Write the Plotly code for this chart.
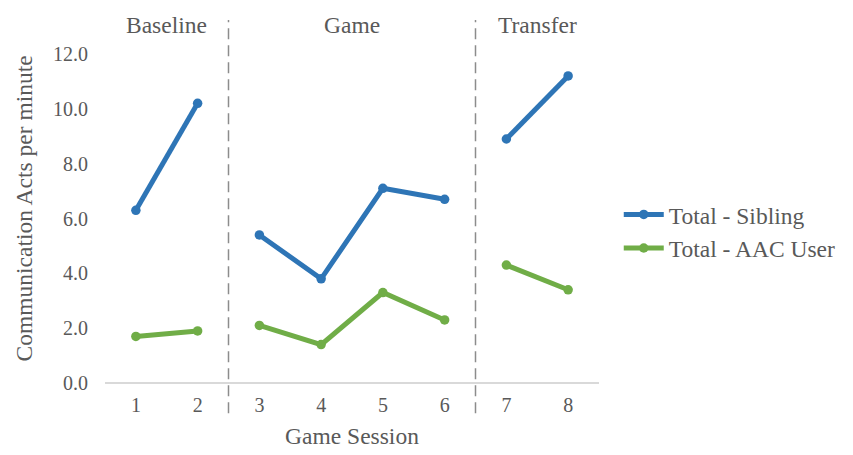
import plotly.graph_objects as go

sessions = [1, 2, 3, 4, 5, 6, 7, 8]
sibling = [6.3, 10.2, 5.4, 3.8, 7.1, 6.7, 8.9, 11.2]
aac_user = [1.7, 1.9, 2.1, 1.4, 3.3, 2.3, 4.3, 3.4]
phases = ["Baseline", "Game", "Transfer"]
phase_sessions = [[1, 2], [3, 4, 5, 6], [7, 8]]
y_ticks = [0, 2, 4, 6, 8, 10, 12]

BLUE = "#2E75B6"
GREEN = "#70AD47"
GRAY = "#595959"
FONT = "Liberation Serif"


def segmented(values):
    xs, ys = [], []
    for i, grp in enumerate(phase_sessions):
        if i > 0:
            xs.append(None)
            ys.append(None)
        for s in grp:
            xs.append(s)
            ys.append(values[sessions.index(s)])
    return xs, ys


fig = go.Figure()
for name, vals, col in [("Total - Sibling", sibling, BLUE), ("Total - AAC User", aac_user, GREEN)]:
    xs, ys = segmented(vals)
    fig.add_trace(go.Scatter(
        x=xs, y=ys, name=name, mode="lines+markers",
        line=dict(color=col, width=5),
        marker=dict(color=col, size=9.5, symbol="circle"),
        connectgaps=False,
    ))

# phase dividers and labels
for i in range(len(phase_sessions) - 1):
    xdiv = (phase_sessions[i][-1] + phase_sessions[i + 1][0]) / 2
    fig.add_shape(type="line", xref="x", yref="paper", x0=xdiv, x1=xdiv,
                  y0=-0.092, y1=1.103,
                  line=dict(color="#8C8C8C", width=1.5, dash="11px,6px"))
for ph, grp in zip(phases, phase_sessions):
    fig.add_annotation(x=(grp[0] + grp[-1]) / 2, y=1.088, xref="x", yref="paper",
                       xanchor="center", yanchor="middle",
                       text=ph, showarrow=False,
                       font=dict(family=FONT, size=23.5, color=GRAY))

# y-axis title as rotated annotation
fig.add_annotation(x=-0.165, y=0.532, xref="paper", yref="paper",
                   xanchor="center", yanchor="middle", textangle=-90,
                   text="Communication Acts per minute", showarrow=False,
                   font=dict(family=FONT, size=23.5, color=GRAY))

fig.update_layout(
    width=853, height=455,
    margin=dict(l=105, r=254, t=54, b=72),
    plot_bgcolor="white", paper_bgcolor="white",
    font=dict(family=FONT, size=20, color=GRAY),
    showlegend=True,
    legend=dict(x=1.04, y=0.46, xanchor="left", yanchor="middle",
                font=dict(family=FONT, size=23.5, color=GRAY),
                itemwidth=40, tracegroupgap=0, bgcolor="rgba(0,0,0,0)"),
    xaxis=dict(range=[0.5, 8.5], tickmode="array", tickvals=sessions,
               ticktext=[str(s) for s in sessions],
               showgrid=False, zeroline=False, showline=False, ticks="",
               ticklabelstandoff=8,
               title=dict(text="Game Session", font=dict(family=FONT, size=23.5, color=GRAY), standoff=12)),
    yaxis=dict(range=[0, 12], tickmode="array", tickvals=y_ticks,
               ticktext=[f"{v:.1f}" for v in y_ticks],
               showgrid=False, zeroline=True, zerolinecolor="#D9D9D9", zerolinewidth=1.5,
               showline=False, ticks="", ticklabelstandoff=16),
)

fig.write_html("out.html")
